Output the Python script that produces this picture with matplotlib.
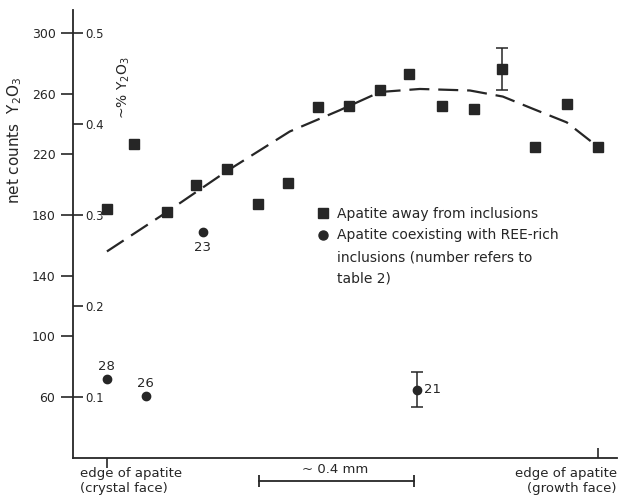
import matplotlib
matplotlib.use("Agg")
import matplotlib.pyplot as plt
from matplotlib.lines import Line2D

# distance from the crystal face, mm
sq_x = [0.00, 0.07, 0.155, 0.23, 0.31, 0.39, 0.467, 0.545, 0.625, 0.705,
        0.78, 0.865, 0.947, 1.02, 1.105, 1.187, 1.267]
sq_y = [184, 227, 182, 200, 210, 187, 201, 251, 252, 262,
        273, 252, 250, 276, 225, 253, 225]
sq_err_x = 1.02
sq_err_y = 276
sq_err = 14

inc_x = [0.00, 0.10, 0.248, 0.80]
inc_y = [72, 61, 169, 65]
inc_num = ["28", "26", "23", "21"]
inc_err_x = 0.80
inc_err_y = 65
inc_err = 11.5

trend_x = [0.0, 0.155, 0.31, 0.472, 0.601, 0.705, 0.808, 0.937, 1.022,
           1.099, 1.187, 1.267]
trend_y = [156, 182, 209, 235, 249, 261, 263, 262, 258, 250, 241, 225]

count_ticks = [60, 100, 140, 180, 220, 260, 300]
pct_ticks = [0.1, 0.2, 0.3, 0.4, 0.5]

ink = "#262626"
plt.rcParams["font.family"] = "DejaVu Sans"
plt.rcParams["font.size"] = 9

fig = plt.figure(figsize=(6.28, 5.01), dpi=100)
ax = fig.add_axes([0.116, 0.086, 0.866, 0.894])
ax.set_xlim(-0.088, 1.316)
ax.set_ylim(20, 315)

for s in ["top", "right"]:
    ax.spines[s].set_visible(False)
for s in ["left", "bottom"]:
    ax.spines[s].set_color(ink)
    ax.spines[s].set_linewidth(1.3)

ax.set_yticks(count_ticks)
ax.tick_params(axis="y", direction="out", length=9, width=1.2, colors=ink,
               labelsize=9)
ax.set_xticks([0])
ax.set_xticklabels([""])
ax.set_xticks([1.267], minor=True)
ax.tick_params(axis="x", which="major", direction="out", length=7,
               width=1.2, colors=ink)
ax.tick_params(axis="x", which="minor", direction="in", length=7,
               width=1.2, colors=ink)

# approximate weight-% scale on the inner side of the y axis
sec = ax.secondary_yaxis(0, functions=(lambda c: c / 600.0,
                                       lambda p: p * 600.0))
sec.set_alignment("right")
sec.spines["right"].set_visible(False)
sec.spines["left"].set_visible(False)
sec.set_yticks(pct_ticks)
sec.set_yticklabels([str(p) for p in pct_ticks])
sec.tick_params(axis="y", direction="out", length=7, width=1.2, colors=ink,
                labelsize=8.5, pad=2)

ax.plot(trend_x, trend_y, ls=(0, (9, 4)), color=ink, lw=1.6)

ax.plot(sq_x, sq_y, ls="none", marker="s", ms=6.5, color=ink)
ax.errorbar([sq_err_x], [sq_err_y], yerr=[sq_err], fmt="none", ecolor=ink,
            elinewidth=1.1, capsize=4, capthick=1.1)

ax.plot(inc_x, inc_y, ls="none", marker="o", ms=6, color=ink)
ax.errorbar([inc_err_x], [inc_err_y], yerr=[inc_err], fmt="none",
            ecolor=ink, elinewidth=1.1, capsize=4, capthick=1.1)

offsets = {"28": (0, 4, "center", "bottom"), "26": (0, 4, "center", "bottom"),
           "23": (0, -7, "center", "top"), "21": (5, 0, "left", "center")}
for x, y, n in zip(inc_x, inc_y, inc_num):
    dx, dy, ha, va = offsets[n]
    ax.annotate(n, (x, y), xytext=(dx, dy), textcoords="offset points",
                ha=ha, va=va, fontsize=9.5, color=ink)

xt = ax.get_xaxis_transform()
ax.text(-0.07, -0.02, "edge of apatite\n(crystal face)", transform=xt,
        ha="left", va="top", fontsize=9.5, color=ink, linespacing=1.2)
ax.text(1.316, -0.02, "edge of apatite\n(growth face)", transform=xt,
        ha="right", va="top", fontsize=9.5, color=ink,
        multialignment="right", linespacing=1.2)

# scale bar
ax.plot([0.392, 0.792], [5, 5], color=ink, lw=1.3, clip_on=False)
ax.plot([0.392, 0.792], [5, 5], ls="none", marker="|", ms=9, mew=1.3,
        color=ink, clip_on=False)
ax.text(0.59, 8, "~ 0.4 mm", ha="center", va="bottom", fontsize=9.5,
        color=ink, clip_on=False)

fig.text(0.024, 0.72, "net counts  Y$_2$O$_3$", rotation=90, ha="center",
         va="center", fontsize=11, color=ink)
fig.text(0.197, 0.826, "~% Y$_2$O$_3$", rotation=90, ha="center",
         va="center", fontsize=10, color=ink)

handles = [Line2D([], [], ls="none", marker="s", ms=6.5, color=ink),
           Line2D([], [], ls="none", marker="o", ms=6.5, color=ink),
           Line2D([], [], ls="none"),
           Line2D([], [], ls="none")]
labels = ["Apatite away from inclusions",
          "Apatite coexisting with REE-rich",
          "inclusions (number refers to",
          "table 2)"]
leg = ax.legend(handles, labels, loc="upper left",
                bbox_to_anchor=(0.44, 0.573), frameon=False, fontsize=10,
                handlelength=0.8, handletextpad=0.6, labelspacing=0.55,
                borderaxespad=0)
for t in leg.get_texts():
    t.set_color(ink)

fig.savefig("out.png", dpi=100, facecolor="white")
